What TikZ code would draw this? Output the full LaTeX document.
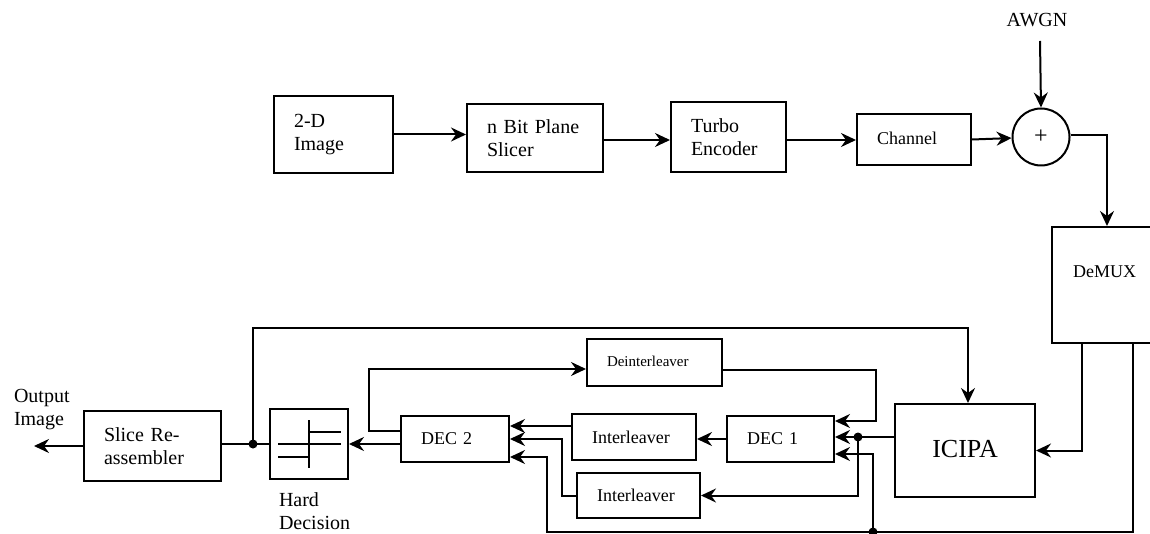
\documentclass[tikz,border=0pt]{standalone}
\usepackage{fontspec}
\setmainfont{Liberation Serif}
\usetikzlibrary{arrows.meta}
\begin{document}
\begin{tikzpicture}[x=1pt,y=-1pt,
  line width=2pt,
  arr/.style={-{Stealth[length=15pt,width=14pt,inset=5pt]}},
  blk/.style={draw,line width=2pt,rectangle,inner ysep=0pt,inner xsep=20pt,align=left,font=\fontsize{20}{23}\selectfont},
  lbl/.style={inner sep=0pt,align=left,font=\fontsize{20}{23}\selectfont},
  small/.style={font=\fontsize{18}{21}\selectfont},
  dot/.style={circle,fill,inner sep=0pt,minimum size=9pt}]
\useasboundingbox (0,0) rectangle (1150,534);
\clip (0,0) rectangle (1150,534);

% ---- top row ----
\node[blk,minimum width=119pt,text width=79pt,minimum height=77pt] (img) at (333.5,134.5) {2-D\\Image};
\node[blk,minimum width=136pt,text width=96pt,minimum height=68pt] (slicer) at (535,138) {n Bit Plane\\Slicer};
\node[blk,minimum width=115pt,text width=75pt,minimum height=70pt] (turbo) at (728.5,137) {Turbo\\Encoder};
\node[blk,small,minimum width=114pt,text width=74pt,minimum height=51pt] (chan) at (914,139.5) {\raisebox{3pt}{Channel}};
\node[draw,circle,line width=2pt,minimum size=57pt,inner sep=0pt,font=\fontsize{24}{26}\selectfont] (sum) at (1041,137) {\raisebox{-7pt}{+}};
\node[lbl,anchor=base] (awgn) at (1037,27) {AWGN};
\coordinate (noise) at (1040,41);

% ---- receiver ----
\node[blk,minimum width=110pt,minimum height=116pt] (demux) at (1107,285) {};
\node[lbl,small,anchor=west] (demuxtxt) at (1072,272) {DeMUX};
\node[blk,minimum width=140pt,minimum height=93pt,inner xsep=0pt,align=center,font=\fontsize{26}{30}\selectfont] (icipa) at (965,450.5) {\raisebox{3pt}{ICIPA}};
\node[blk,minimum width=135pt,text width=95pt,minimum height=47pt,font=\fontsize{15}{18}\selectfont] (deint) at (654.5,362.5) {\raisebox{3pt}{Deinterleaver}};
\node[blk,small,minimum width=107pt,text width=67pt,minimum height=46pt] (dec1) at (780.5,439) {DEC 1};
\node[blk,small,minimum width=108pt,text width=68pt,minimum height=46pt] (dec2) at (455,439) {DEC 2};
\node[blk,small,minimum width=124pt,text width=84pt,minimum height=46pt] (il1) at (634,437) {Interleaver};
\node[blk,small,minimum width=123pt,text width=83pt,minimum height=45pt] (il2) at (638.5,495.5) {Interleaver};
\node[blk,minimum width=78pt,minimum height=70pt] (hd) at (309,444) {};
\node[blk,minimum width=137pt,text width=97pt,minimum height=70pt] (slice) at (152.5,446) {Slice Re-\\assembler};
\node[lbl,anchor=north west] (outlbl) at (13,388) {Output\\Image};
\node[lbl,anchor=north west] (hdlbl) at (278,492) {Hard\\Decision};

% hard decision symbol
\begin{scope}[shift={(hd.center)}]
  \draw (0,-24) -- (0,24);
  \draw (0,-12) -- (32,-12);
  \draw (-31,0) -- (32,0);
  \draw (-31,13) -- (0,13);
\end{scope}

% junction points
\node[dot] (d1) at (858,437) {};
\node[dot] (d2) at (253,444) {};
\node[dot] (tap) at (873,532) {};
\coordinate (busL) at (547,532);
\coordinate (c1) at (876,370);
\coordinate (c2) at (562,495.5);
\coordinate (c3) at (369,369);
\coordinate (c4) at (968,328);
\coordinate (out) at (34,446);

% ---- transmitter connectors ----
\draw[arr] (img.east) -- (img.east -| slicer.west);
\draw[arr] ([yshift=-2pt]slicer.east) -- ([yshift=-2pt]slicer.east -| turbo.west);
\draw[arr] ([yshift=-3pt]turbo.east) -- ([yshift=-3pt]turbo.east -| chan.west);
\draw[arr] (chan.east) -- (sum);
\draw[arr] (noise) -- (sum.north);
\draw[arr] ([yshift=2pt]sum.east) -| (demux.north);

% ---- receiver connectors ----
\draw[arr] ([xshift=-25pt]demux.south) |- (icipa.east);
\draw[arr] ([xshift=26pt]demux.south) |- (busL) |- ([yshift=-18pt]dec2.east);
\draw[arr] (tap.center) |- ([yshift=-15pt]dec1.east);
\draw (icipa.west |- d1) -- (d1.center);
\draw[arr] (d1.center) -- (dec1.east |- d1);
\draw[arr] (d1.center) |- (il2.east);
\draw[arr] (deint.east |- c1) -- (c1) |- ([yshift=18pt]dec1.east);
\draw[arr] (dec1.west) -- (dec1.west -| il1.east);
\draw[arr] ([yshift=11pt]il1.west) -- ([yshift=11pt]il1.west -| dec2.east);
\draw[arr] (il2.west) -- (c2) |- (dec2.east);
\draw[arr] ([yshift=8pt]dec2.west) -| (c3) -- (c3 -| deint.west);
\draw[arr] ([yshift=-5pt]dec2.west) -- ([yshift=-5pt]dec2.west -| hd.east);
\draw (hd.west) -- (slice.east |- hd.west);
\draw[arr] (d2.center) |- (c4) -- (c4 |- icipa.north);
\draw[arr] (slice.west) -- (out);
\end{tikzpicture}
\end{document}
